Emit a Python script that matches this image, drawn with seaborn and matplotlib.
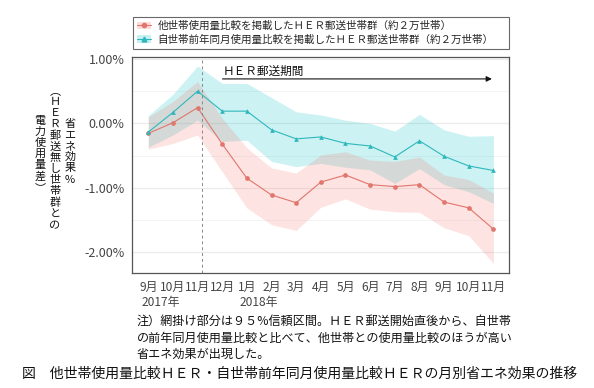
import numpy as np
import pandas as pd
import matplotlib
matplotlib.use("Agg")
import matplotlib.pyplot as plt
from matplotlib.patches import Patch
from matplotlib.lines import Line2D
from matplotlib.ticker import FuncFormatter, MultipleLocator
import seaborn as sns

months = ['9月', '10月', '11月', '12月', '1月', '2月', '3月', '4月',
          '5月', '6月', '7月', '8月', '9月', '10月', '11月']
years = ['2017年', '2018年']

# 他世帯使用量比較 (%)
other = [-0.155, 0.01, 0.245, -0.32, -0.85, -1.11, -1.23, -0.91,
         -0.80, -0.95, -0.98, -0.95, -1.22, -1.31, -1.64]
other_lo = [-0.40, -0.31, -0.18, -0.75, -1.31, -1.57, -1.66, -1.30,
            -1.17, -1.33, -1.37, -1.38, -1.62, -1.74, -2.17]
other_hi = [0.10, 0.34, 0.65, 0.08, -0.38, -0.69, -0.77, -0.49,
            -0.44, -0.57, -0.59, -0.52, -0.80, -0.87, -1.08]

# 自世帯前年同月使用量比較 (%)
own = [-0.135, 0.17, 0.50, 0.19, 0.19, -0.10, -0.24, -0.21,
       -0.31, -0.35, -0.52, -0.27, -0.51, -0.66, -0.73]
own_lo = [-0.37, -0.18, 0.05, -0.28, -0.26, -0.59, -0.67, -0.62,
          -0.68, -0.72, -0.93, -0.70, -0.95, -1.06, -1.24]
own_hi = [0.12, 0.45, 0.89, 0.62, 0.62, 0.40, 0.18, 0.13,
          0.05, 0.0, -0.12, 0.14, -0.10, -0.20, -0.19]

labels = ['他世帯使用量比較を掲載したＨＥＲ郵送世帯群（約２万世帯）',
          '自世帯前年同月使用量比較を掲載したＨＥＲ郵送世帯群（約２万世帯）']
red = '#E0766D'
teal = '#2FB8BC'

sns.set_style("white")
plt.rcParams['font.family'] = ['Noto Sans CJK JP', 'DejaVu Sans']

x = np.arange(len(months))
df = pd.DataFrame({
    'x': np.concatenate([x, x]),
    'value': other + own,
    'group': [labels[0]] * len(x) + [labels[1]] * len(x),
})

fig = plt.figure(figsize=(5.94, 3.88), dpi=100)
ax = fig.add_axes([0.2222, 0.2964, 0.6342, 0.5567])

ax.fill_between(x, own_lo, own_hi, color='#00BFC4', alpha=0.2, lw=0)
ax.fill_between(x, other_lo, other_hi, color='#F8766D', alpha=0.2, lw=0)

sns.lineplot(data=df, x='x', y='value', hue='group', style='group',
             palette=[red, teal], markers=['o', '^'], dashes=False,
             markersize=3.4, markeredgewidth=0, linewidth=0.8,
             legend=False, ax=ax)

ax.set_xlim(-0.66, 14.62)
ax.set_ylim(-2.32, 1.03)
ax.set_xticks(x)
ax.set_xticklabels(months)
ax.yaxis.set_major_locator(MultipleLocator(1.0))
ax.yaxis.set_minor_locator(MultipleLocator(0.5))
ax.yaxis.set_major_formatter(FuncFormatter(lambda v, p: f'{v:.2f}%'))
ax.grid(axis='y', which='major', color='#EBEBEB', lw=0.9)
ax.grid(axis='y', which='minor', color='#F2F2F2', lw=0.6)
ax.set_axisbelow(True)
ax.set_xlabel('')
ax.set_ylabel('')
for s in ax.spines.values():
    s.set_color('#555555')
    s.set_linewidth(0.9)
ax.tick_params(axis='both', which='major', length=3.5, width=0.8,
               color='#333333', labelcolor='#444444', pad=2)
ax.tick_params(axis='x', labelsize=8.6)
ax.tick_params(axis='y', labelsize=9)
ax.tick_params(axis='y', which='minor', length=0)

# HER 郵送期間
ax.axvline(2.2, color='#888888', lw=0.7, ls=(0, (3, 3)))
ax.annotate('', xy=(14.05, 0.69), xytext=(2.9, 0.69),
            arrowprops=dict(arrowstyle='-|>', color='#111111', lw=0.8,
                            mutation_scale=8))
ax.text(3.0, 0.81, 'ＨＥＲ郵送期間', fontsize=8.4, ha='left', va='center',
        color='#111111')

# year labels
ax.text(-0.26, -0.105, years[0], transform=ax.get_xaxis_transform(),
        fontsize=8.6, color='#444444', ha='left', va='top')
ax.text(3.72, -0.105, years[1], transform=ax.get_xaxis_transform(),
        fontsize=8.6, color='#444444', ha='left', va='top')

# legend
handles = [(Patch(facecolor='#F8766D', alpha=0.25, lw=0),
            Line2D([], [], color=red, marker='o', markersize=3, lw=0.8)),
           (Patch(facecolor='#00BFC4', alpha=0.22, lw=0),
            Line2D([], [], color=teal, marker='^', markersize=3.5, lw=0.8))]
leg = fig.legend(handles, labels, loc='lower left',
                 bbox_to_anchor=(0.224, 0.874, 0.633, 0.09), mode='expand',
                 borderaxespad=0, fontsize=7.6, frameon=True, fancybox=False,
                 handlelength=1.3, handletextpad=0.6, labelspacing=0.3,
                 borderpad=0.4)
leg.get_frame().set_edgecolor('#444444')
leg.get_frame().set_linewidth(0.8)

# y label in vertical writing, one character per position
cols = [('省エネ効果%', 70, 118), ('︵ＨＥＲ郵送無し世帯群との', 55, 85),
        ('電力使用量差︶', 40, 115)]
step = 11.2
for txt, px, py in cols:
    for i, ch in enumerate(txt):
        fig.text(px / 594, 1 - (py + (i + 0.5) * step) / 388, ch,
                 fontsize=8.0, ha='center', va='center', color='#111111')

# notes
note = ('注）網掛け部分は９５%信頼区間。ＨＥＲ郵送開始直後から、自世帯\n'
        'の前年同月使用量比較と比べて、他世帯との使用量比較のほうが高い\n'
        '省エネ効果が出現した。')
fig.text(137 / 594, 1 - 315 / 388, note, fontsize=8.7, ha='left', va='top',
         linespacing=1.35, color='#111111')
fig.text(22 / 594, 1 - 374 / 388,
         '図　他世帯使用量比較ＨＥＲ・自世帯前年同月使用量比較ＨＥＲの月別省エネ効果の推移',
         fontsize=10.0, ha='left', va='center', color='#111111')

fig.savefig('out.png', dpi=100)
